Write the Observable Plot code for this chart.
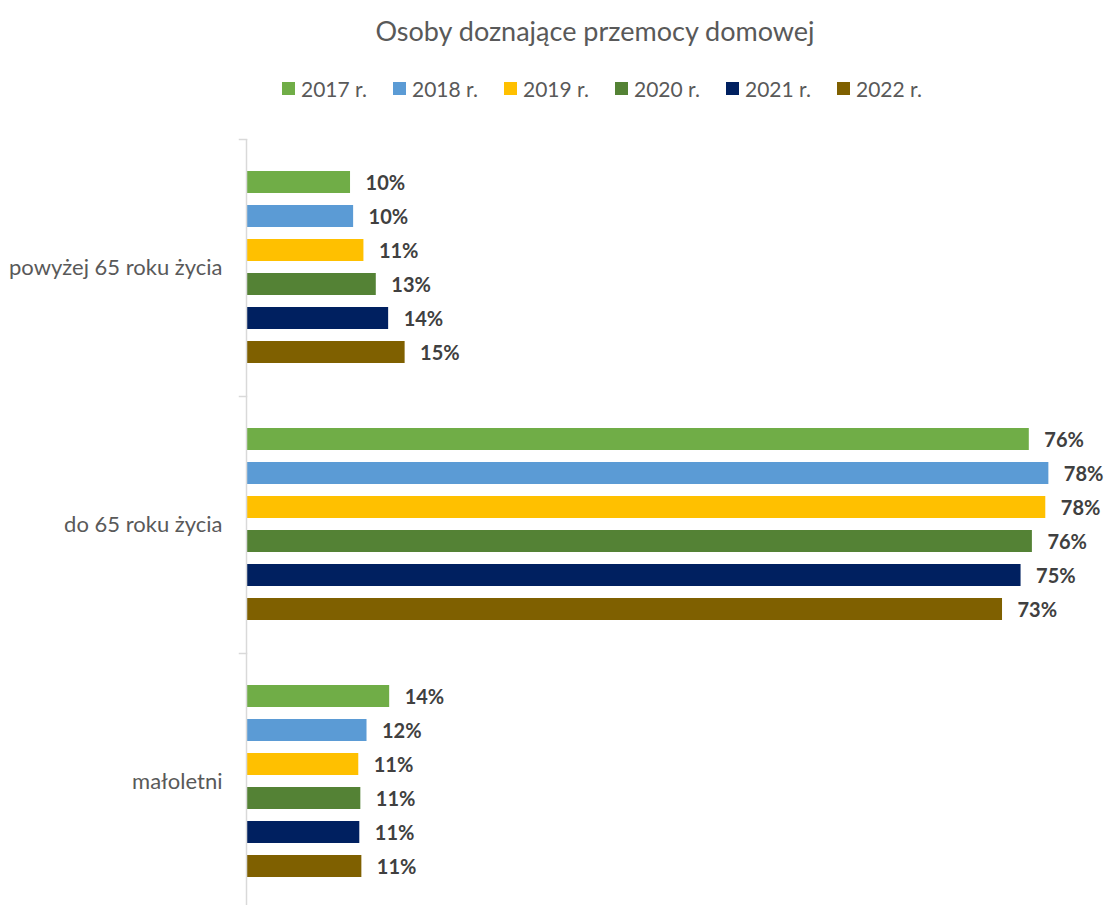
<!DOCTYPE html>
<html><head><meta charset="utf-8">
<script src="https://cdn.jsdelivr.net/npm/d3@7"></script>
<script src="https://cdn.jsdelivr.net/npm/@observablehq/plot@0.6"></script>
<style>
body{margin:0;background:#fff;overflow:hidden;font-family:Lato,"Open Sans",sans-serif;}
#wrap{position:relative;width:1106px;height:905px;overflow:hidden;}
#title{position:absolute;top:14px;left:0;width:1190px;text-align:center;font-size:27px;line-height:34px;color:#595959;}
#legend{position:absolute;top:74px;left:282px;display:flex;}
.item{display:flex;align-items:center;width:111px;height:28px;font-size:21px;color:#595959;}
.sw{width:13px;height:13px;margin-right:6px;flex:none;}
#chart{position:absolute;top:110px;left:0;}
</style>
</head><body>
<div id="wrap">
<div id="title">Osoby doznające przemocy domowej</div>
<div id="legend"></div>
<div id="chart"></div>
</div>
<script>
const categories = ["powyżej 65 roku życia", "do 65 roku życia", "małoletni"];
const years = ["2017 r.", "2018 r.", "2019 r.", "2020 r.", "2021 r.", "2022 r."];
const colors = ["#70AD47", "#5B9BD5", "#FFC000", "#548235", "#002060", "#7F6000"];
const valuesPowyzej65 = [10.1, 10.4, 11.4, 12.6, 13.8, 15.4];
const valuesDo65 = [76.0, 77.9, 77.6, 76.3, 75.2, 73.4];
const valuesMaloletni = [13.9, 11.7, 10.9, 11.1, 11.0, 11.2];

const series = [valuesPowyzej65, valuesDo65, valuesMaloletni];
const data = [];
categories.forEach((c, i) => years.forEach((y, j) => data.push({category: c, year: y, value: series[i][j]})));

const legend = document.getElementById("legend");
years.forEach((y, j) => {
  const it = document.createElement("div"); it.className = "item";
  const sw = document.createElement("span"); sw.className = "sw"; sw.style.background = colors[j];
  const t = document.createElement("span"); t.textContent = y;
  it.appendChild(sw); it.appendChild(t); legend.appendChild(it);
});

const chart = Plot.plot({
  width: 1106, height: 800,
  marginTop: 29, marginBottom: 0, marginLeft: 246, marginRight: 36,
  style: {fontFamily: "Lato, 'Open Sans', sans-serif", background: "white"},
  x: {domain: [0, 80], axis: null},
  y: {domain: years, axis: null, paddingInner: 0.342, paddingOuter: 0.93},
  fy: {domain: categories, padding: 0, label: null},
  color: {domain: years, range: colors},
  marks: [
    Plot.barX(data, {x: "value", y: "year", fy: "category", fill: "year"}),
    Plot.text(data, {x: "value", y: "year", fy: "category", text: d => Math.round(d.value) + "%",
      textAnchor: "start", dx: 15, dy: 1, fontWeight: "bold", fontSize: 20, fill: "#404040"}),
    Plot.ruleX([0], {stroke: "#d9d9d9", strokeWidth: 1.5}),
    Plot.frame({anchor: "top", insetLeft: -7, insetRight: 824, stroke: "#d9d9d9", strokeWidth: 1.5}),
    Plot.axisFy({anchor: "left", tickSize: 0, tickPadding: 24, fontSize: 22, fill: "#595959", label: null})
  ]
});
document.getElementById("chart").appendChild(chart);
</script>
</body></html>
